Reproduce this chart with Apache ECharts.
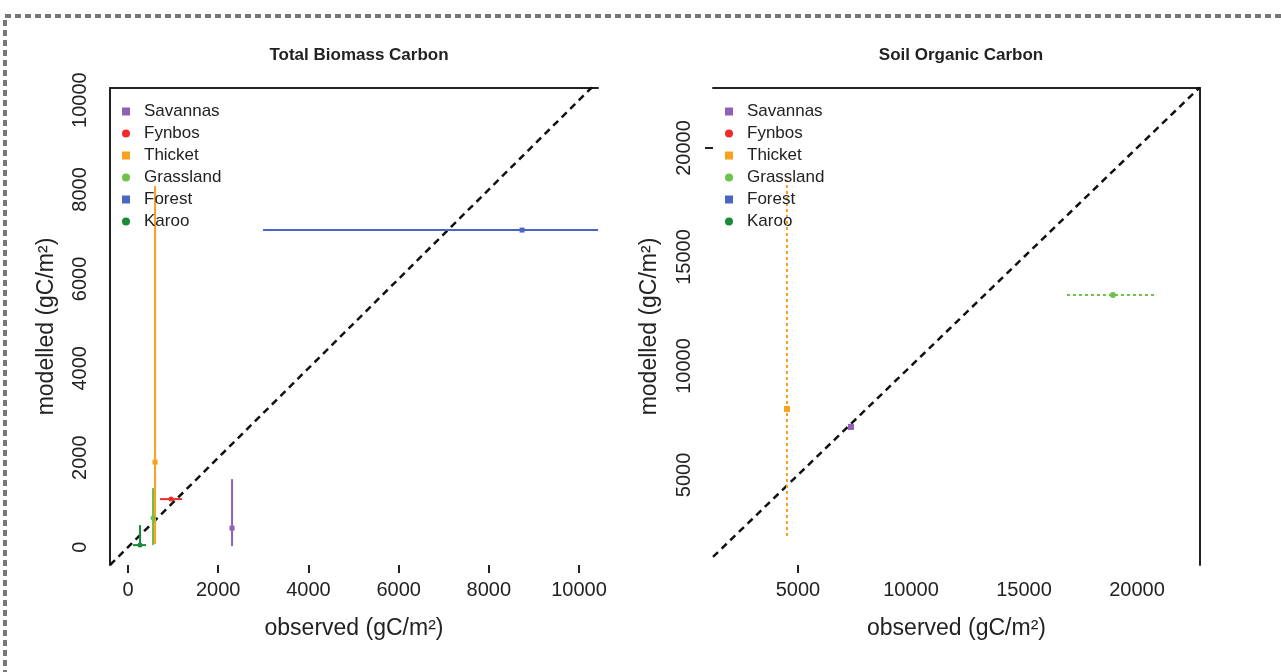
<!DOCTYPE html>
<html>
<head>
<meta charset="utf-8">
<style>
  html, body { margin: 0; padding: 0; background: #fff; }
  #chart { width: 1281px; height: 672px; }
</style>
<script src="https://cdn.jsdelivr.net/npm/echarts@6/dist/echarts.min.js"></script>
</head>
<body>
<div id="chart"></div>
<script>
// categories, same order as the legend
const categories = ['Savannas', 'Fynbos', 'Thicket', 'Grassland', 'Forest', 'Karoo']
const colors = ['#9060b8', '#ee2a2a', '#f9a11b', '#6cc24a', '#4a66c4', '#1a8a3a']
const shapes = ['rect', 'circle', 'rect', 'circle', 'rect', 'circle']

// Total Biomass Carbon (gC/m2): point + error bar ends
const biomassObs = [2306, 953, 599, 554, 8736, 266]
const biomassMod = [425, 1074, 1902, 650, 7092, 45]
const biomassObsLo = [2306, 710, 599, 554, 2993, 111]
const biomassObsHi = [2306, 1197, 599, 554, 10420, 399]
const biomassModLo = [22, 1074, 67, 45, 7092, 45]
const biomassModHi = [1521, 1074, 8076, 1320, 7092, 492]

// Soil Organic Carbon (gC/m2)
const soilObs = [7345, null, 4513, 18938, null, null]
const soilMod = [7202, null, 8028, 13257, null, null]
const soilObsLo = [7345, null, 4513, 16903, null, null]
const soilObsHi = [7345, null, 4513, 20796, null, null]
const soilModLo = [7202, null, 2202, 13257, null, null]
const soilModHi = [7202, null, 18532, 13257, null, null]

// axis ranges and tick labels
const biomassXRange = [-400, 10420]
const biomassYRange = [-400, 10270]
const biomassTicks = [0, 2000, 4000, 6000, 8000, 10000]
const soilXRange = [1240, 22790]
const soilYRange = [870, 22750]
const soilTicks = [5000, 10000, 15000, 20000]

const FONT = 'Liberation Sans'
const INK = '#222'

/** one category of one panel: point with cross error bars */
function errorSeries(i, obs, mod, obsLo, obsHi, modLo, modHi, axisIdx, dashed, pointSize) {
  const data = obs[i] == null ? [] : [[obs[i], mod[i], obsLo[i], obsHi[i], modLo[i], modHi[i]]]
  const color = colors[i]
  const lineStyle = {
    stroke: color,
    lineWidth: 2,
    lineDash: dashed ? [3, 3] : null,
  }
  return {
    name: categories[i],
    type: 'custom',
    xAxisIndex: axisIdx[0],
    yAxisIndex: axisIdx[1],
    clip: true,
    data: data,
    renderItem: function (params, api) {
      const c = api.coord([api.value(0), api.value(1)])
      const xl = api.coord([api.value(2), api.value(1)])
      const xh = api.coord([api.value(3), api.value(1)])
      const yl = api.coord([api.value(0), api.value(4)])
      const yh = api.coord([api.value(0), api.value(5)])
      const s = pointSize
      const point = shapes[i] === 'rect'
        ? { type: 'rect', shape: { x: c[0] - s / 2, y: c[1] - s / 2, width: s, height: s }, style: { fill: color } }
        : { type: 'circle', shape: { cx: c[0], cy: c[1], r: s / 2 }, style: { fill: color } }
      return {
        type: 'group',
        children: [
          { type: 'line', shape: { x1: xl[0], y1: xl[1], x2: xh[0], y2: xh[1] }, style: lineStyle },
          { type: 'line', shape: { x1: yl[0], y1: yl[1], x2: yh[0], y2: yh[1] }, style: lineStyle },
          point,
        ],
      }
    },
  }
}

function oneToOne(range, axisIdx) {
  return {
    type: 'line',
    xAxisIndex: axisIdx[0],
    yAxisIndex: axisIdx[1],
    data: [[range[0], range[0]], [range[1], range[1]]],
    symbol: 'none',
    clip: true,
    silent: true,
    lineStyle: { color: '#111', width: 2.5, type: [7, 5] },
    z: 1,
  }
}

const plain = (v) => String(v)
const labelStyle = { color: INK, fontFamily: FONT, fontSize: 20, formatter: plain }
const nameStyle = { color: INK, fontFamily: FONT, fontSize: 23 }
const lineOnly = {
  axisLine: { show: true, onZero: false, lineStyle: { color: INK, width: 2 } },
  axisTick: { show: false },
  axisLabel: { show: false },
  splitLine: { show: false },
}

function legendCfg(left) {
  return {
    left: left,
    top: 98,
    orient: 'vertical',
    itemWidth: 26,
    itemHeight: 8,
    itemGap: 5,
    selectedMode: false,
    textStyle: { color: INK, fontFamily: FONT, fontSize: 17, lineHeight: 17 },
    data: categories.map((c, i) => ({
      name: c,
      icon: shapes[i] === 'rect' ? 'path://M0,0H1V1H0Z' : 'circle',
      itemStyle: { color: colors[i] },
    })),
  }
}

const series = []
categories.forEach((c, i) => {
  series.push(errorSeries(i, biomassObs, biomassMod, biomassObsLo, biomassObsHi, biomassModLo, biomassModHi, [0, 0], false, 5))
})
categories.forEach((c, i) => {
  series.push(errorSeries(i, soilObs, soilMod, soilObsLo, soilObsHi, soilModLo, soilModHi, [2, 1], true, 6))
})
series.push(oneToOne(biomassXRange, [0, 0]))
series.push(oneToOne(soilXRange, [2, 1]))

const option = {
  animation: false,
  backgroundColor: '#fff',
  title: [
    { text: 'Total Biomass Carbon', left: 354, top: 42, textAlign: 'center',
      textStyle: { color: INK, fontFamily: FONT, fontSize: 17, fontWeight: 'bold' } },
    { text: 'Soil Organic Carbon', left: 956, top: 42, textAlign: 'center',
      textStyle: { color: INK, fontFamily: FONT, fontSize: 17, fontWeight: 'bold' } },
  ],
  legend: [legendCfg(117), legendCfg(720)],
  grid: [
    { left: 110, right: 683, top: 88, bottom: 107 },
    { left: 713, right: 81, top: 88, bottom: 107 },
  ],
  xAxis: [
    {
      gridIndex: 0, type: 'value', position: 'bottom',
      min: biomassXRange[0], max: biomassXRange[1],
      name: 'observed (gC/m²)', nameLocation: 'middle', nameGap: 52, nameTextStyle: nameStyle,
      axisLine: { show: false, onZero: false },
      axisTick: { show: true, length: 8, customValues: biomassTicks, lineStyle: { color: INK, width: 2 } },
      axisLabel: Object.assign({ margin: 15, customValues: biomassTicks }, labelStyle),
      splitLine: { show: false },
    },
    Object.assign({ gridIndex: 0, type: 'value', position: 'top', min: 0, max: 1 }, lineOnly),
    {
      gridIndex: 1, type: 'value', position: 'bottom',
      min: soilXRange[0], max: soilXRange[1],
      name: 'observed (gC/m²)', nameLocation: 'middle', nameGap: 52, nameTextStyle: nameStyle,
      axisLine: { show: false, onZero: false },
      axisTick: { show: true, length: 8, customValues: [5000], lineStyle: { color: INK, width: 2 } },
      axisLabel: Object.assign({ margin: 15, customValues: soilTicks }, labelStyle),
      splitLine: { show: false },
    },
    Object.assign({ gridIndex: 1, type: 'value', position: 'top', min: 0, max: 1 }, lineOnly),
  ],
  yAxis: [
    {
      gridIndex: 0, type: 'value', position: 'left',
      min: biomassYRange[0], max: biomassYRange[1],
      name: 'modelled (gC/m²)', nameLocation: 'middle', nameGap: 52, nameTextStyle: nameStyle,
      axisLine: { show: true, onZero: false, lineStyle: { color: INK, width: 2 } },
      axisTick: { show: false },
      axisLabel: Object.assign({ margin: 20, rotate: 90, customValues: biomassTicks }, labelStyle),
      splitLine: { show: false },
    },
    {
      gridIndex: 1, type: 'value', position: 'left',
      min: soilYRange[0], max: soilYRange[1],
      name: 'modelled (gC/m²)', nameLocation: 'middle', nameGap: 52, nameTextStyle: nameStyle,
      axisLine: { show: false, onZero: false },
      axisTick: { show: true, length: 8, customValues: [20000], lineStyle: { color: INK, width: 2 } },
      axisLabel: Object.assign({ margin: 19, rotate: 90, customValues: soilTicks }, labelStyle),
      splitLine: { show: false },
    },
    Object.assign({ gridIndex: 1, type: 'value', position: 'right', min: 0, max: 1 }, lineOnly),
  ],
  graphic: [
    {
      type: 'rect', silent: true, z: -1,
      shape: { x: 5, y: 16, width: 1300, height: 700 },
      style: { fill: null, stroke: '#777', lineWidth: 4, lineDash: [6, 4] },
    },
  ],
  series: series,
}

const chart = echarts.init(document.getElementById('chart'), null, { renderer: 'canvas' })
chart.setOption(option)
</script>
</body>
</html>
